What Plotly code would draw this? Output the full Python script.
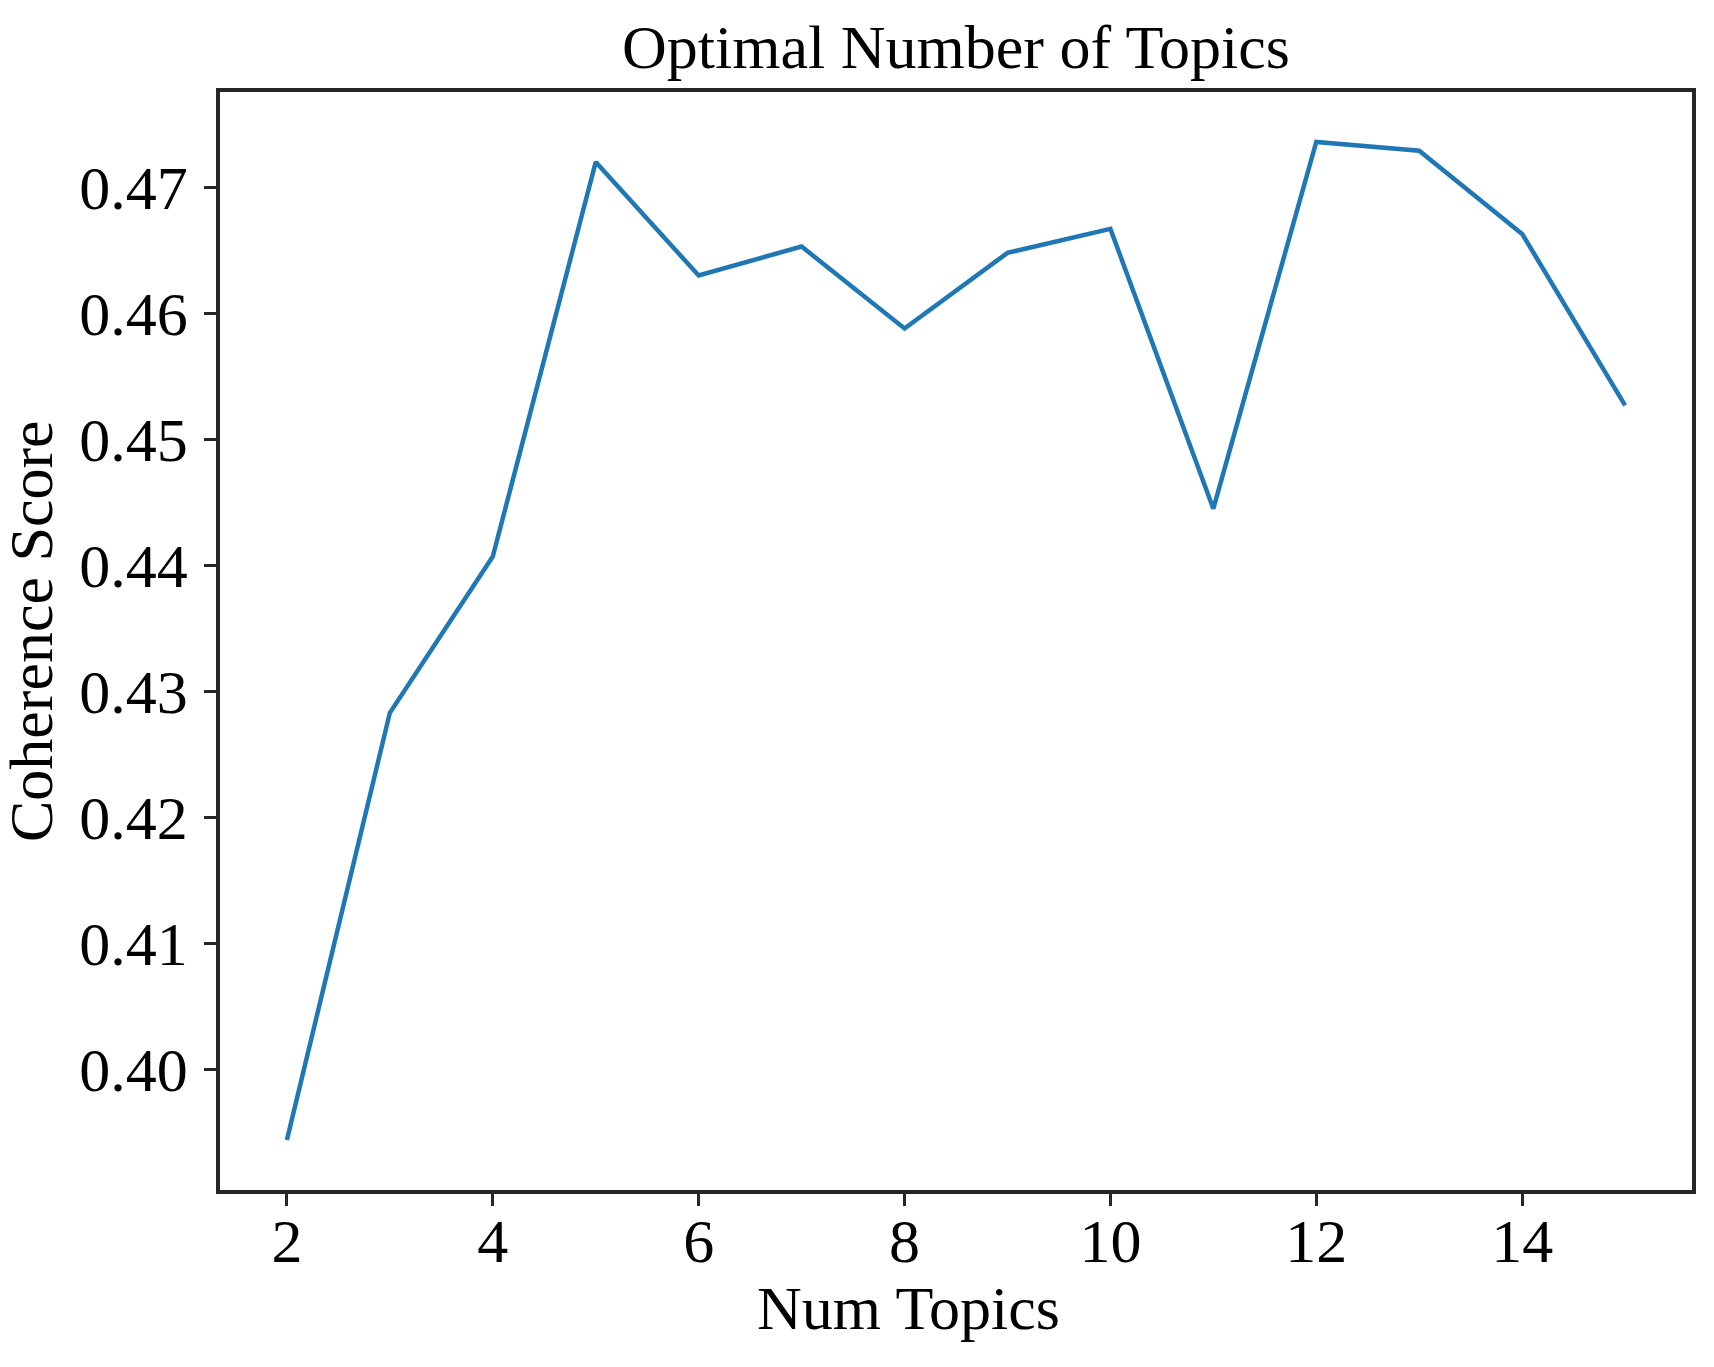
import plotly.graph_objects as go

num_topics = [2, 3, 4, 5, 6, 7, 8, 9, 10, 11, 12, 13, 14, 15]
coherence = [0.3944, 0.4283, 0.4407, 0.4720, 0.4630, 0.4653, 0.4588,
             0.4648, 0.4667, 0.4445, 0.4736, 0.4729, 0.4663, 0.4527]
x_ticks = [2, 4, 6, 8, 10, 12, 14]
y_ticks = [0.40, 0.41, 0.42, 0.43, 0.44, 0.45, 0.46, 0.47]

font_family = "Liberation Serif, Times New Roman, serif"

fig = go.Figure()
fig.add_trace(go.Scatter(
    x=num_topics,
    y=coherence,
    mode="lines",
    line=dict(color="#1f77b4", width=4.5),
    showlegend=False
))

axis_style = dict(
    showline=True,
    linecolor="#262626",
    linewidth=3.5,
    mirror=True,
    showgrid=False,
    zeroline=False,
    ticks="outside",
    ticklen=12,
    tickwidth=3,
    tickcolor="#262626",
    tickfont=dict(family=font_family, size=62, color="black"),
)

fig.update_xaxes(range=[1.35, 15.65], tickvals=x_ticks,
                 ticklabelstandoff=-18, **axis_style)
fig.update_yaxes(range=[0.39044, 0.47756], tickvals=y_ticks,
                 tickformat=".2f", ticklabelstandoff=4, **axis_style)

fig.update_layout(
    width=1714,
    height=1367,
    margin=dict(l=212, r=30, t=84, b=185),
    plot_bgcolor="white",
    paper_bgcolor="white",
    title=dict(
        text="Optimal Number of Topics",
        font=dict(family=font_family, size=62, color="black"),
        x=0.5, xref="paper",
        y=1 - 38 / 1367, yref="container", yanchor="middle"
    ),
    annotations=[
        dict(text="Num Topics", xref="paper", yref="paper",
             x=0.468, y=-0.1075, showarrow=False,
             xanchor="center", yanchor="middle",
             font=dict(family=font_family, size=62, color="black")),
        dict(text="Coherence Score", xref="paper", yref="paper",
             x=-0.1284, y=0.509, showarrow=False, textangle=-90,
             xanchor="center", yanchor="middle",
             font=dict(family=font_family, size=62, color="black")),
    ],
)

fig.write_html("out.html")
